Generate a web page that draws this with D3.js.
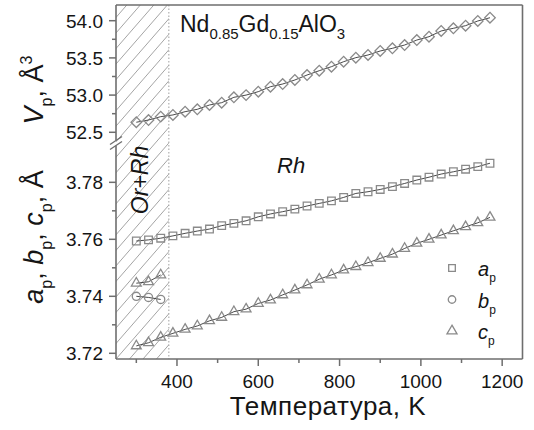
<!DOCTYPE html>
<html>
<head>
<meta charset="utf-8">
<script src="https://cdn.jsdelivr.net/npm/d3@7"></script>
<style>
  html, body { margin: 0; padding: 0; background: #fff; }
  svg { display: block; font-family: "Liberation Sans", Arial, sans-serif; }
</style>
</head>
<body>
<svg id="chart" width="534" height="430"></svg>
<script>
// Temperatures of the measurements, K
const temperatureK = [300, 330, 360, 390, 420, 450, 480, 510, 540, 570, 600, 630, 660, 690, 720,
                      750, 780, 810, 840, 870, 900, 930, 960, 990, 1020, 1050, 1080, 1110, 1140, 1170];
// Pseudo-cubic cell volume V_p, Å^3
const volumeV = [52.635, 52.665, 52.71, 52.733, 52.777, 52.809, 52.867, 52.898, 52.97, 53.0,
                 53.046, 53.113, 53.149, 53.203, 53.27, 53.328, 53.382, 53.449, 53.503, 53.539,
                 53.593, 53.629, 53.673, 53.74, 53.785, 53.862, 53.898, 53.933, 53.996, 54.04];
// Lattice parameter a_p, Å
const latticeA = [3.7594, 3.7598, 3.7604, 3.7612, 3.7621, 3.7629, 3.7636, 3.7648, 3.7656, 3.7665,
                  3.7679, 3.7689, 3.7697, 3.7706, 3.7717, 3.7726, 3.7735, 3.7747, 3.7761, 3.7767,
                  3.7775, 3.7785, 3.7796, 3.7808, 3.7818, 3.7829, 3.7837, 3.7846, 3.7855, 3.7867];
// Lattice parameter c_p, Å
const latticeC = [3.7226, 3.7237, 3.7256, 3.7270, 3.7284, 3.7296, 3.7314, 3.7326, 3.7346, 3.7355,
                  3.7375, 3.7387, 3.7405, 3.7422, 3.7440, 3.7460, 3.7475, 3.7492, 3.7504, 3.7518,
                  3.7533, 3.7548, 3.7568, 3.7586, 3.7600, 3.7615, 3.7630, 3.7644, 3.7658, 3.7677];
// Two-phase (Or+Rh) range
const mixedT = [300, 330, 360];
const mixedB = [3.7400, 3.7396, 3.7389];
const mixedC = [3.7446, 3.7451, 3.7475];
const phaseBoundaryK = 380;

// Axis ticks
const tempTicks = [400, 600, 800, 1000, 1200];
const tempMinorTicks = [300, 500, 700, 900, 1100];
const volumeTicks = [52.5, 53.0, 53.5, 54.0];
const volumeMinorTicks = [52.75, 53.25, 53.75];
const latticeTicks = [3.72, 3.74, 3.76, 3.78];
const latticeMinorTicks = [3.73, 3.75, 3.77];

const legendItems = [
  { sym: "square", label: "a" },
  { sym: "circle", label: "b" },
  { sym: "triangle", label: "c" }
];

const svg = d3.select("#chart");
const plotL = 116, plotR = 522.5, plotT = 5, plotB = 359, breakY = 143;
const frameColor = "#6e6e6e", markColor = "#8a8a8a", textColor = "#151515";

const x = d3.scaleLinear().domain([250, 1250]).range([plotL, plotR]);
const yV = d3.scaleLinear().domain([52.356, 54.211]).range([breakY, plotT]);
const yL = d3.scaleLinear().domain([3.718, 3.7938]).range([plotB, breakY]);

svg.append("rect").attr("width", 534).attr("height", 430).attr("fill", "#fff");

// Hatched two-phase region
const hatchW = x(phaseBoundaryK) - plotL;
svg.append("clipPath").attr("id", "hatchClip")
  .append("rect").attr("x", plotL).attr("y", plotT).attr("width", hatchW).attr("height", plotB - plotT);
const hatch = svg.append("g").attr("clip-path", "url(#hatchClip)");
const slope = 1.15, gap = 13.5;
for (let k = -40; k < 10; k++) {
  const x0 = plotL + k * gap;
  hatch.append("line")
    .attr("x1", x0).attr("y1", plotB)
    .attr("x2", x0 + (plotB - plotT) / slope).attr("y2", plotT)
    .attr("stroke", "#9a9a9a").attr("stroke-width", 0.9);
}
svg.append("line")
  .attr("x1", x(phaseBoundaryK)).attr("x2", x(phaseBoundaryK))
  .attr("y1", plotT).attr("y2", plotB)
  .attr("stroke", "#a0a0a0").attr("stroke-width", 1).attr("stroke-dasharray", "1.5,2");

// Frame
const frame = svg.append("g").attr("stroke", frameColor).attr("stroke-width", 1.6).attr("fill", "none");
frame.append("line").attr("x1", plotL).attr("x2", plotR).attr("y1", plotT).attr("y2", plotT);
frame.append("line").attr("x1", plotR).attr("x2", plotR).attr("y1", plotT).attr("y2", plotB);
frame.append("line").attr("x1", plotL).attr("x2", plotR).attr("y1", plotB).attr("y2", plotB);
frame.append("line").attr("x1", plotL).attr("x2", plotL).attr("y1", plotT).attr("y2", breakY - 2.5);
frame.append("line").attr("x1", plotL).attr("x2", plotL).attr("y1", breakY + 2.5).attr("y2", plotB);
// Axis break marks
[-2.5, 2.5].forEach(d => {
  frame.append("line")
    .attr("x1", plotL - 6).attr("y1", breakY + d + 4)
    .attr("x2", plotL + 6).attr("y2", breakY + d - 4)
    .attr("stroke-width", 1.3);
});

// Ticks
const ticks = svg.append("g").attr("stroke", frameColor).attr("stroke-width", 1.5);
tempTicks.forEach(t => ticks.append("line").attr("x1", x(t)).attr("x2", x(t)).attr("y1", plotB).attr("y2", plotB + 7));
tempMinorTicks.forEach(t => ticks.append("line").attr("x1", x(t)).attr("x2", x(t)).attr("y1", plotB).attr("y2", plotB + 4));
volumeTicks.forEach(t => ticks.append("line").attr("x1", plotL - 7).attr("x2", plotL).attr("y1", yV(t)).attr("y2", yV(t)));
volumeMinorTicks.forEach(t => ticks.append("line").attr("x1", plotL - 4).attr("x2", plotL).attr("y1", yV(t)).attr("y2", yV(t)));
latticeTicks.forEach(t => ticks.append("line").attr("x1", plotL - 7).attr("x2", plotL).attr("y1", yL(t)).attr("y2", yL(t)));
latticeMinorTicks.forEach(t => ticks.append("line").attr("x1", plotL - 4).attr("x2", plotL).attr("y1", yL(t)).attr("y2", yL(t)));

// Tick labels
const tl = svg.append("g").attr("fill", textColor).attr("font-size", 19);
tempTicks.forEach(t => tl.append("text").attr("x", x(t)).attr("y", 388).attr("text-anchor", "middle").text(t));
volumeTicks.forEach(t => tl.append("text").attr("x", 103).attr("y", yV(t)).attr("dy", "0.36em")
  .attr("text-anchor", "end").text(d3.format(".1f")(t)));
latticeTicks.forEach(t => tl.append("text").attr("x", 103).attr("y", yL(t)).attr("dy", "0.36em")
  .attr("text-anchor", "end").text(d3.format(".2f")(t)));

// Axis titles
svg.append("text").attr("x", 328).attr("y", 415).attr("text-anchor", "middle")
  .attr("font-size", 26).attr("letter-spacing", 0.5).attr("fill", textColor).text("Температура, K");

function richText(g, parts, size, subSize) {
  const t = g.append("text").attr("fill", textColor).attr("font-size", size);
  let shift = 0;
  parts.forEach(p => {
    const target = p.sub ? 0.32 * size : p.sup ? -0.42 * size : 0;
    const ts = t.append("tspan").text(p.t).attr("dy", target - shift);
    if (p.sub || p.sup) ts.attr("font-size", subSize);
    if (p.it) ts.attr("font-style", "italic");
    shift = target;
  });
  return t;
}

const vLab = svg.append("g").attr("transform", "translate(43,90) rotate(-90)");
richText(vLab, [{ t: "V", it: true }, { t: "p", sub: true }, { t: ", Å" }, { t: "3", sup: true }], 27, 16)
  .attr("text-anchor", "middle");
const lLab = svg.append("g").attr("transform", "translate(43,237) rotate(-90)");
richText(lLab, [{ t: "a", it: true }, { t: "p", sub: true }, { t: ", " }, { t: "b", it: true }, { t: "p", sub: true },
  { t: ", " }, { t: "c", it: true }, { t: "p", sub: true }, { t: ", Å" }], 27, 16)
  .attr("text-anchor", "middle");

// Compound formula and phase annotations
richText(svg.append("g"), [{ t: "Nd" }, { t: "0.85", sub: true }, { t: "Gd" }, { t: "0.15", sub: true },
  { t: "AlO" }, { t: "3", sub: true }], 23, 15).attr("x", 180).attr("y", 32);
svg.append("text").attr("x", 277).attr("y", 173).attr("font-size", 22).attr("font-style", "italic")
  .attr("fill", textColor).text("Rh");
svg.append("text").attr("transform", "translate(148,180) rotate(-90)").attr("text-anchor", "middle")
  .attr("font-size", 23).attr("font-style", "italic").attr("fill", textColor).text("Or+Rh");

// Series
const symbolPath = {
  square: d3.symbol(d3.symbolSquare, 58)(),
  circle: d3.symbol(d3.symbolCircle, 52)(),
  triangle: d3.symbol(d3.symbolTriangle, 42)(),
  diamond: d3.symbol(d3.symbolSquare, 56)()
};
function drawSeries(xs, ys, yScale, sym) {
  const pts = xs.map((t, i) => [x(t), yScale(ys[i])]);
  svg.append("path").attr("d", d3.line()(pts)).attr("fill", "none")
    .attr("stroke", "#1a1a1a").attr("stroke-width", 0.8);
  svg.append("g").selectAll("path").data(pts).join("path")
    .attr("d", symbolPath[sym])
    .attr("transform", d => `translate(${d[0]},${d[1]})` + (sym === "diamond" ? " rotate(45)" : ""))
    .attr("fill", "none").attr("stroke", markColor).attr("stroke-width", 1.3);
}
drawSeries(temperatureK, volumeV, yV, "diamond");
drawSeries(temperatureK, latticeA, yL, "square");
drawSeries(temperatureK, latticeC, yL, "triangle");
drawSeries(mixedT, mixedB, yL, "circle");
drawSeries(mixedT, mixedC, yL, "triangle");

// Legend
const legendSym = {
  square: d3.symbol(d3.symbolSquare, 44)(),
  circle: d3.symbol(d3.symbolCircle, 44)(),
  triangle: d3.symbol(d3.symbolTriangle, 44)()
};
legendItems.forEach((item, i) => {
  const cy = 268 + i * 31.5;
  svg.append("path").attr("d", legendSym[item.sym]).attr("transform", `translate(452,${cy})`)
    .attr("fill", "none").attr("stroke", markColor).attr("stroke-width", 1.3);
  richText(svg.append("g"), [{ t: item.label, it: true }, { t: "p", sub: true }], 20, 12)
    .attr("x", 478).attr("y", cy + 8);
});
</script>
</body>
</html>
